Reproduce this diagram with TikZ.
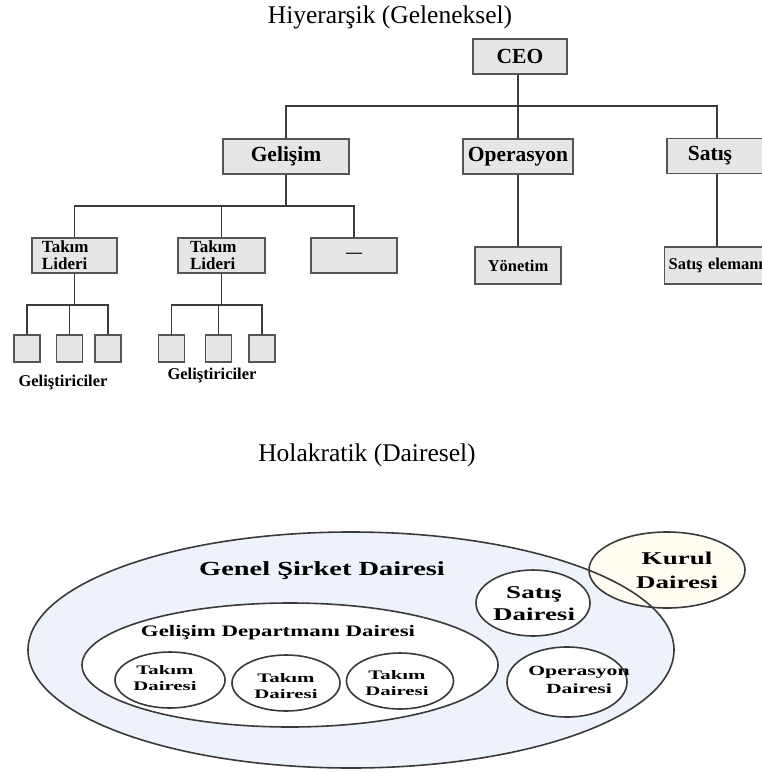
\documentclass[tikz,border=0pt]{standalone}
\usepackage{fontspec}
\setmainfont{Liberation Serif}
\usetikzlibrary{shapes.geometric}
\definecolor{boxfill}{HTML}{E6E6E6}
\definecolor{boxline}{HTML}{555555}
\definecolor{treeline}{HTML}{3A3A3A}
\definecolor{outerfill}{HTML}{EEF2FA}
\definecolor{kurulfill}{HTML}{FFFDF2}
\definecolor{ellline}{HTML}{3A3A3A}
\tikzset{
  orgbox/.style={draw=boxline, line width=1.3pt, fill=boxfill, inner sep=0pt, font=\bfseries\fontsize{21.5}{23}\selectfont},
  smallbox/.style={orgbox, minimum width=26pt, minimum height=27pt},
  tree/.style={draw=treeline, line width=1.3pt},
  circ/.style={ellipse, draw=ellline, line width=1.6pt, inner sep=0pt},
  ctext/.style={font=\bfseries, align=center, inner sep=0pt},
  title/.style={font=\fontsize{25.5}{27}\selectfont, inner sep=0pt},
  lbl/.style={font=\bfseries\fontsize{16.5}{16.5}\selectfont, inner sep=0pt}
}
\begin{document}
\begin{tikzpicture}[x=1pt,y=-1pt]
\useasboundingbox (0,0) rectangle (762,772);
\clip (0,0) rectangle (762,772);
% ---------- Hierarchical ----------
\node[title] (t1) at (390,17) {Hiyerarşik (Geleneksel)};
\node[orgbox, minimum width=94pt, minimum height=35pt] (ceo) at (520,56.5) {CEO};
\node[orgbox, minimum width=126pt, minimum height=35pt] (gel) at (286,156.5) {Gelişim};
\node[orgbox, minimum width=110pt, minimum height=35pt] (ops) at (518,156.5) {Operasyon};
\node[orgbox, minimum width=100pt, minimum height=35pt] (sat) at (717,156) {\hspace*{-14pt}Satış};
\coordinate (h1) at (518,106);
\draw[tree] (ceo.south -| h1) -- (h1);
\draw[tree] (gel.north) |- (h1) -| (sat.north);
\draw[tree] (ops.north) -- (h1);

\node[orgbox, minimum width=85pt, minimum height=35pt, font=\bfseries\fontsize{17}{17}\selectfont, align=left, text width=75pt] (tl1) at (74.5,255.5) {\hspace*{5pt}Takım\\\hspace*{5pt}Lideri};
\node[orgbox, minimum width=87pt, minimum height=35pt, font=\bfseries\fontsize{17}{17}\selectfont, align=left, text width=77pt] (tl2) at (221.5,255.5) {\hspace*{7pt}Takım\\\hspace*{7pt}Lideri};
\node[orgbox, minimum width=86pt, minimum height=35pt, font=\bfseries\fontsize{16}{16}\selectfont] (tl3) at (354,255.5) {\raisebox{-3pt}{---}};
\coordinate (h2) at (286,206);
\draw[tree] (gel.south) -- (h2);
\draw[tree] (tl1.north) |- (h2) -| (tl3.north);
\draw[tree] (tl2.north) |- (h2);

\node[smallbox] (a1) at (27,348.5) {};
\node[smallbox] (a2) at (69.5,348.5) {};
\node[smallbox] (a3) at (108,348.5) {};
\coordinate (h3) at (74.5,305);
\draw[tree] (tl1.south) -- (h3);
\draw[tree] (a1.north) |- (h3) -| (a3.north);
\draw[tree] (a2.north) |- (h3);

\node[smallbox] (b1) at (171.5,348.5) {};
\node[smallbox] (b2) at (218.5,348.5) {};
\node[smallbox] (b3) at (262,348.5) {};
\coordinate (h4) at (221.5,305);
\draw[tree] (tl2.south) -- (h4);
\draw[tree] (b1.north) |- (h4) -| (b3.north);
\draw[tree] (b2.north) |- (h4);

\node[lbl] (g1) at (63,382) {Geliştiriciler};
\node[lbl] (g2) at (212,375) {Geliştiriciler};

\node[orgbox, minimum width=86pt, minimum height=37pt, font=\bfseries\fontsize{16.5}{16.5}\selectfont] (yon) at (518,265.5) {Yönetim};
\node[orgbox, minimum width=115pt, minimum height=37pt, font=\bfseries\fontsize{16.5}{16.5}\selectfont, anchor=west, text width=107pt, align=left] (sel) at (664,265.5) {Satış elemanı};
\draw[tree] (ops.south) -- (yon.north);
\draw[tree] (sat.south) -- (sat.south |- sel.north);

% ---------- Holacratic ----------
\node[title] (t2) at (367,455) {Holakratik (Dairesel)};
\node[ellipse, fill=outerfill, minimum width=646pt, minimum height=236pt, inner sep=0pt] (outer) at (351,650) {};
\node[ellipse, fill=kurulfill, minimum width=156pt, minimum height=76pt, inner sep=0pt] (kurulbg) at (667,570) {};
\draw[draw=ellline, line width=1.6pt] (outer.center) ellipse [x radius=323, y radius=118];
\node[circ, fill=white, minimum width=416pt, minimum height=124pt] (dep) at (290,665) {};
\node[circ, fill=white, minimum width=110pt, minimum height=56pt] (td1) at (170,680) {};
\node[circ, fill=white, minimum width=108pt, minimum height=56pt] (td2) at (286,683) {};
\node[circ, fill=white, minimum width=107pt, minimum height=56pt] (td3) at (400,681) {};
\node[circ, fill=white, minimum width=114pt, minimum height=66pt] (sd) at (533,603) {};
\node[circ, fill=white, minimum width=120pt, minimum height=70pt] (od) at (567,682) {};
\node[circ, minimum width=156pt, minimum height=76pt] (kd) at (667,570) {};

\node[ctext] (ltgen) at (322,571) {\scalebox{1.42}[1]{\fontsize{20}{22}\selectfont Genel Şirket Dairesi}};
\node[ctext] (ltdep) at (278,633) {\scalebox{1.43}[1]{\fontsize{16}{18}\selectfont Gelişim Departmanı Dairesi}};
\node[ctext, font=\bfseries\fontsize{13}{16}\selectfont] (lt1) at (165,678) {\scalebox{1.6}[1]{Takım}\\\scalebox{1.6}[1]{Dairesi}};
\node[ctext, font=\bfseries\fontsize{13}{16}\selectfont] (lt2) at (286,686) {\scalebox{1.6}[1]{Takım}\\\scalebox{1.6}[1]{Dairesi}};
\node[ctext, font=\bfseries\fontsize{13}{16}\selectfont] (lt3) at (397,683) {\scalebox{1.6}[1]{Takım}\\\scalebox{1.6}[1]{Dairesi}};
\node[ctext, font=\bfseries\fontsize{18}{22}\selectfont] (lsd) at (534,604) {\scalebox{1.5}[1]{Satış}\\\scalebox{1.5}[1]{Dairesi}};
\node[ctext, font=\bfseries\fontsize{14}{18}\selectfont] (lod) at (579,680) {\scalebox{1.55}[1]{Operasyon}\\\scalebox{1.55}[1]{Dairesi}};
\node[ctext, font=\bfseries\fontsize{18}{24}\selectfont] (lkd) at (677,570) {\scalebox{1.5}[1]{Kurul}\\\scalebox{1.5}[1]{Dairesi}};
\end{tikzpicture}
\end{document}
